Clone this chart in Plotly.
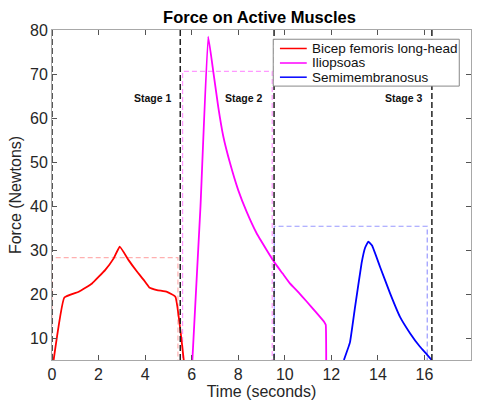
import plotly.graph_objects as go

# ---- data ----
bf_t = [0.07, 0.53, 1.15, 1.72, 2.29, 2.65, 2.91, 3.29, 3.65, 3.94, 4.18, 4.51, 4.94, 5.3, 5.66]
bf_f = [5, 19.2, 20.5, 22.4, 25.5, 28.1, 30.75, 27.7, 25.1, 23.2, 21.5, 20.9, 20.5, 19.4, 5]

il_t = [6.03, 6.38, 6.71, 6.93, 7.14, 7.36, 7.65, 8.0, 8.36, 8.79, 9.22, 9.54, 9.9, 10.22, 10.6, 10.94, 11.3, 11.7, 11.76, 11.78]
il_f = [5, 40.0, 78.5, 70.5, 62.6, 55.8, 49.7, 43.6, 38.7, 33.8, 30.0, 27.3, 24.7, 22.4, 20.3, 18.3, 16.1, 13.6, 13.0, 5]

sm_t = [12.54, 12.8, 13.02, 13.3, 13.45, 13.59, 13.75, 14.09, 14.52, 14.95, 15.38, 15.81, 16.1, 16.31]
sm_f = [5, 9.0, 17.1, 27.0, 30.5, 31.9, 31.0, 26.2, 20.2, 14.8, 11.1, 8.0, 6.3, 5]

stage_bounds = [0, 5.51, 9.54, 16.32]
stage_names = ["Stage 1", "Stage 2", "Stage 3"]
stage_label_x = [4.32, 8.26, 15.13]
stage_label_y = 64.5

box_x0 = [0, 5.61, 9.55]
box_x1 = [5.41, 9.46, 16.12]
box_level = [28.25, 70.6, 35.4]

names = ["Bicep femoris long-head", "Iliopsoas", "Semimembranosus"]
colors = ["#ff0000", "#ff00ff", "#0000ff"]
box_colors = ["#ffb0b0", "#ff99ff", "#9999ff"]

Y_MIN, Y_MAX = 5, 80

fig = go.Figure()

# dashed boxes
for x0, x1, lv, c in zip(box_x0, box_x1, box_level, box_colors):
    fig.add_trace(go.Scatter(x=[x0, x0, x1, x1], y=[0, lv, lv, 0], mode="lines",
                             line=dict(color=c, width=1.2, dash="5px,3px"),
                             showlegend=False, hoverinfo="skip"))

# curves
for t, f, c, n in zip([bf_t, il_t, sm_t], [bf_f, il_f, sm_f], colors, names):
    fig.add_trace(go.Scatter(x=t, y=f, mode="lines", name=n,
                             line=dict(color=c, width=1.8, shape="spline", smoothing=0.3),
                             showlegend=False))

# stage boundary lines
for xb in stage_bounds:
    fig.add_trace(go.Scatter(x=[xb, xb], y=[Y_MIN, Y_MAX], mode="lines",
                             line=dict(color="#222222", width=1.5, dash="6px,3px"),
                             showlegend=False, hoverinfo="skip"))

for nm, xl in zip(stage_names, stage_label_x):
    fig.add_annotation(x=xl, y=stage_label_y, text="<b>" + nm + "</b>", showarrow=False,
                       font=dict(size=10.5, color="#111111"), xanchor="center", yanchor="middle")

# custom legend (paper coords)
fig.add_shape(type="rect", xref="paper", yref="paper", x0=0.528, x1=0.972, y0=0.830, y1=0.972,
              line=dict(color="#888888", width=1), fillcolor="white", layer="above")
legend_rows = [0.944, 0.900, 0.857]
for nm, c, yy in zip(names, colors, legend_rows):
    fig.add_shape(type="line", xref="paper", yref="paper", x0=0.544, x1=0.608, y0=yy, y1=yy,
                  line=dict(color=c, width=1.5), layer="above")
    fig.add_annotation(xref="paper", yref="paper", x=0.616, y=yy, text=nm, showarrow=False,
                       xanchor="left", yanchor="middle", font=dict(size=13.5, color="#111111"))

axis_common = dict(showline=True, linecolor="#a8a8a8", linewidth=1, mirror="ticks",
                   ticks="inside", ticklen=5, tickcolor="#555555", showgrid=False,
                   zeroline=False, automargin=False, tickfont=dict(size=16, color="#262626"))

fig.update_layout(
    width=477, height=400,
    margin=dict(l=52, r=6, t=30, b=40),
    paper_bgcolor="white", plot_bgcolor="white",
    font=dict(family="Liberation Sans, Arial, sans-serif", color="#262626"),
    title=dict(text="<b>Force on Active Muscles</b>", x=0.544, xanchor="center",
               y=1 - 17 / 400, yanchor="middle", yref="container",
               font=dict(size=16.5, color="#000000")),
    xaxis=dict(range=[0, 18], dtick=2, tick0=0,
               title=dict(text="Time (seconds)", font=dict(size=16), standoff=0), **axis_common),
    yaxis=dict(range=[Y_MIN, Y_MAX], tickvals=[10, 20, 30, 40, 50, 60, 70, 80],
               title=dict(text="Force (Newtons)", font=dict(size=16), standoff=4), **axis_common),
    showlegend=False,
)

fig.write_html("out.html", config={"displayModeBar": False},
               post_script="document.body.style.margin='0px';document.body.style.overflow='hidden';")
